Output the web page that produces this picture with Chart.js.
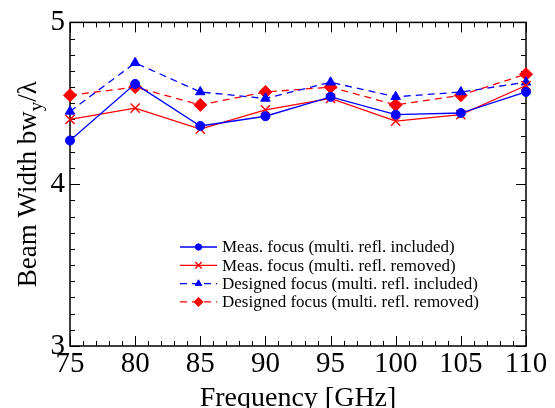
<!DOCTYPE html>
<html>
<head>
<meta charset="utf-8">
<script src="https://cdn.jsdelivr.net/npm/chart.js"></script>
<style>
  body { margin: 0; background: #fff; }
  canvas { display: block; }
</style>
</head>
<body>
<canvas id="mycanvas" width="555" height="408"></canvas>
<script>
// frequency [GHz]
var freq = [75, 80, 85, 90, 95, 100, 105, 110];
// beam width bw_y / lambda
var measIncl = [4.27, 4.62, 4.36, 4.42, 4.54, 4.43, 4.44, 4.57];
var measRem  = [4.40, 4.47, 4.34, 4.46, 4.53, 4.39, 4.43, 4.61];
var desIncl  = [4.45, 4.75, 4.57, 4.53, 4.63, 4.54, 4.57, 4.63];
var desRem   = [4.55, 4.60, 4.49, 4.57, 4.60, 4.49, 4.55, 4.68];

var labels = [
	'Meas. focus (multi. refl. included)',
	'Meas. focus (multi. refl. removed)',
	'Designed focus (multi. refl. included)',
	'Designed focus (multi. refl. removed)'
];

var xMin = 75, xMax = 110, xMajor = 5, xMinor = 1;
var yMin = 3, yMax = 5, yMajor = 1, yMinor = 0.1;

var serif = '"Liberation Serif", "Times New Roman", serif';

function pts(ys) {
	return freq.map(function(f, i) { return {x: f, y: ys[i]}; });
}

function series(label, ys, color, style, radius, dash) {
	return {
		label: label,
		data: pts(ys),
		borderColor: color,
		backgroundColor: color,
		borderWidth: 1.3,
		borderDash: dash,
		pointStyle: style,
		pointRadius: radius,
		pointHoverRadius: radius,
		pointBorderWidth: style === 'crossRot' ? 1.4 : 1,
		tension: 0,
		clip: false
	};
}

var datasets = [
	series(labels[0], measIncl, '#0000ff', 'circle', 4.5, []),
	series(labels[1], measRem, '#ff0000', 'crossRot', 6.5, []),
	series(labels[2], desIncl, '#0000ff', 'triangle', 5.5, [7, 5]),
	series(labels[3], desRem, '#ff0000', 'rectRot', 6.5, [7, 5])
];

// box, inward ticks on all four sides, titles and legend
var decor = {
	id: 'decor',
	beforeDatasetsDraw: function(chart) {
		var ctx = chart.ctx, a = chart.chartArea;
		var x = chart.scales.x, y = chart.scales.y;
		ctx.save();
		ctx.strokeStyle = '#000';
		ctx.lineWidth = 1;
		ctx.beginPath();
		var n = Math.round((xMax - xMin) / xMinor);
		for (var i = 0; i <= n; i++) {
			var v = xMin + i * xMinor;
			var px = Math.round(x.getPixelForValue(v)) + 0.5;
			var len = (Math.abs(v / xMajor - Math.round(v / xMajor)) < 1e-6) ? 10 : 5;
			ctx.moveTo(px, a.bottom); ctx.lineTo(px, a.bottom - len);
			ctx.moveTo(px, a.top); ctx.lineTo(px, a.top + len);
		}
		n = Math.round((yMax - yMin) / yMinor);
		for (var j = 0; j <= n; j++) {
			var w = yMin + j * yMinor;
			var py = Math.round(y.getPixelForValue(w)) + 0.5;
			var len2 = (Math.abs(w / yMajor - Math.round(w / yMajor)) < 1e-6) ? 10 : 5;
			ctx.moveTo(a.left, py); ctx.lineTo(a.left + len2, py);
			ctx.moveTo(a.right, py); ctx.lineTo(a.right - len2, py);
		}
		ctx.stroke();
		ctx.lineWidth = 1.5;
		ctx.strokeRect(a.left, a.top, a.right - a.left, a.bottom - a.top);
		ctx.restore();
	},
	afterDraw: function(chart) {
		var ctx = chart.ctx, a = chart.chartArea;
		ctx.save();
		ctx.fillStyle = '#000';

		// x title
		ctx.font = '28px ' + serif;
		ctx.textAlign = 'center';
		ctx.textBaseline = 'alphabetic';
		ctx.fillText('Frequency [GHz]', (a.left + a.right) / 2, 406);

		// y title with subscript
		ctx.translate(36, (a.top + a.bottom) / 2);
		ctx.rotate(-Math.PI / 2);
		var big = '27px ' + serif, small = '19px ' + serif;
		var p1 = 'Beam Width bw', p2 = 'y', p3 = '/\u03bb';
		ctx.font = big;  var w1 = ctx.measureText(p1).width, w3 = ctx.measureText(p3).width;
		ctx.font = small; var w2 = ctx.measureText(p2).width;
		var x0 = -(w1 + w2 + w3) / 2;
		ctx.textAlign = 'left';
		ctx.font = big;  ctx.fillText(p1, x0, 0);
		ctx.font = small; ctx.fillText(p2, x0 + w1, 6);
		ctx.font = big;  ctx.fillText(p3, x0 + w1 + w2, 0);
		ctx.setTransform(1, 0, 0, 1, 0, 0);

		// legend
		var lx0 = 180, lx1 = 217, tx = 222, ly = 247, step = 18.3;
		ctx.font = '17px ' + serif;
		ctx.textBaseline = 'middle';
		chart.data.datasets.forEach(function(ds, k) {
			var yy = ly + k * step;
			ctx.strokeStyle = ds.borderColor;
			ctx.fillStyle = ds.backgroundColor;
			ctx.lineWidth = 1.3;
			ctx.setLineDash(ds.borderDash);
			ctx.beginPath();
			ctx.moveTo(lx0, yy); ctx.lineTo(lx1, yy);
			ctx.stroke();
			ctx.setLineDash([]);
			ctx.lineWidth = ds.pointBorderWidth;
			Chart.helpers.drawPoint(ctx, {
				pointStyle: ds.pointStyle,
				radius: ds.pointRadius * 0.7,
				rotation: 0,
				borderWidth: ds.pointBorderWidth
			}, (lx0 + lx1) / 2, yy);
			ctx.fillStyle = '#000';
			ctx.fillText(ds.label, tx, yy + 1);
		});
		ctx.restore();
	}
};

new Chart(document.getElementById('mycanvas'), {
	type: 'line',
	data: {datasets: datasets},
	options: {
		responsive: false,
		animation: false,
		events: [],
		layout: {padding: {left: 0, right: 29, top: 20, bottom: 0}},
		plugins: {legend: {display: false}, tooltip: {enabled: false}},
		scales: {
			x: {
				type: 'linear',
				min: xMin,
				max: xMax,
				grid: {display: false, drawTicks: false},
				border: {display: false},
				ticks: {
					stepSize: xMajor,
					padding: 1,
					color: '#000',
					maxRotation: 0,
					font: {family: serif, size: 29}
				},
				afterFit: function(s) { s.height = 62; }
			},
			y: {
				min: yMin,
				max: yMax,
				grid: {display: false, drawTicks: false},
				border: {display: false},
				ticks: {
					stepSize: yMajor,
					padding: 5,
					color: '#000',
					font: {family: serif, size: 29}
				},
				afterFit: function(s) { s.width = 70; }
			}
		}
	},
	plugins: [decor]
});
</script>
</body>
</html>
